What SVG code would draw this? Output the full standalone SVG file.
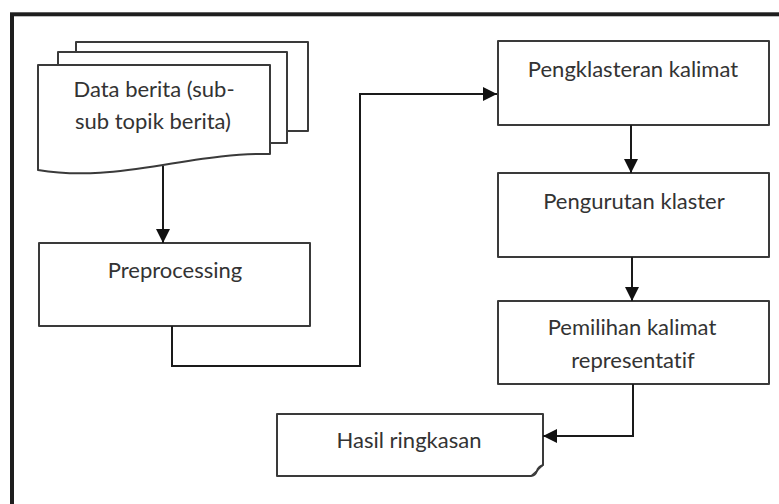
<svg xmlns="http://www.w3.org/2000/svg" width="779" height="504" viewBox="0 0 779 504">
<defs>
<marker id="arr" markerUnits="userSpaceOnUse" markerWidth="14" markerHeight="14" refX="14" refY="7" orient="auto">
<path d="M0,0 L14,7 L0,14 Z" fill="#111"/>
</marker>
<style>
.box{fill:#fff;stroke:#3a3a3a;stroke-width:2;stroke-linejoin:round}
.con{fill:none;stroke:#1a1a1a;stroke-width:2}
.t{font-family:Lato,"Liberation Sans",sans-serif;font-size:22px;fill:#333;text-anchor:middle;font-variant-ligatures:none}
</style>
</defs>
<rect width="779" height="504" fill="#fff"/>
<rect x="12" y="14.3" width="800" height="520" fill="none" stroke="#1e1e1e" stroke-width="4"/>
<g id="data-berita">
<path class="box" d="M76,52 V42 H308 V131 H287"/>
<path class="box" d="M58,65 V52 H287 V143 H271"/>
<path class="box" d="M38,65 H270 V154 C240,153 205,158 163,165 C120,172 80,177 38,170 Z"/>
<text class="t" x="154" y="97">Data berita (sub-</text>
<text class="t" x="153" y="129">sub topik berita)</text>
</g>
<g id="preprocessing">
<rect class="box" x="39" y="243" width="271" height="83"/>
<text class="t" x="175" y="278">Preprocessing</text>
</g>
<g id="pengklasteran">
<rect class="box" x="498" y="41" width="271" height="84"/>
<text class="t" x="633" y="77">Pengklasteran kalimat</text>
</g>
<g id="pengurutan">
<rect class="box" x="498" y="173" width="271" height="84"/>
<text class="t" x="634" y="209">Pengurutan klaster</text>
</g>
<g id="pemilihan">
<rect class="box" x="498" y="301" width="271" height="83"/>
<text class="t" x="632" y="335">Pemilihan kalimat</text>
<text class="t" x="633" y="368">representatif</text>
</g>
<g id="hasil">
<path class="box" d="M277,414 H543 V465 Q538,467 537,471 Q535,476 531,476 H277 Z"/>
<path d="M543,465 Q538,470 531,476" fill="none" stroke="#3a3a3a" stroke-width="1.5"/>
<text class="t" x="409" y="448">Hasil ringkasan</text>
</g>
<g id="connectors">
<path class="con" d="M163,166 V243" marker-end="url(#arr)"/>
<path class="con" d="M172,326 V366 H360 V94 H497" marker-end="url(#arr)"/>
<path class="con" d="M631,125 V173" marker-end="url(#arr)"/>
<path class="con" d="M632,257 V301" marker-end="url(#arr)"/>
<path class="con" d="M633,384 V436 H543" marker-end="url(#arr)"/>
</g>
</svg>
